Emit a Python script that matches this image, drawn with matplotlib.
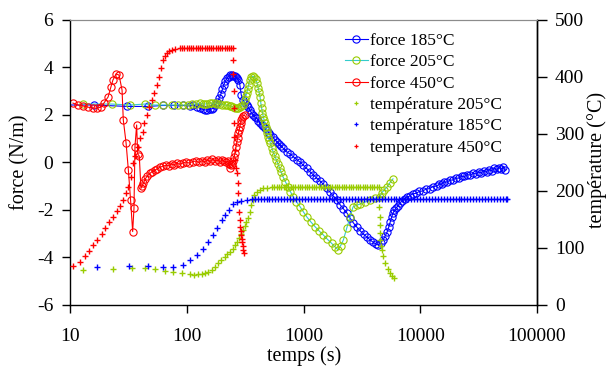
import matplotlib
matplotlib.use("Agg")
import matplotlib.pyplot as plt
from matplotlib.lines import Line2D
from matplotlib.ticker import NullLocator

plt.rcParams["font.family"] = "Liberation Serif"
plt.rcParams["axes.unicode_minus"] = False

# force (N/m) vs temps (s)
force_185 = [
    (2, 2.42), (16, 2.42), (31, 2.36), (46.6, 2.36), (62, 2.40), (77, 2.40), (92, 2.40),
    (107, 2.38), (114, 2.42), (122, 2.35), (130, 2.28), (137, 2.24), (143, 2.21), (150, 2.22),
    (158, 2.24), (164, 2.26), (169, 2.28), (176, 2.42), (183, 2.56), (190, 2.72), (196, 2.88),
    (202, 3.08), (207, 3.26), (214, 3.42), (220, 3.54), (228, 3.62), (236, 3.68), (243, 3.68),
    (250, 3.66), (258, 3.64), (265, 3.61), (271, 3.55), (277, 3.47), (285, 3.26), (293, 2.84),
    (303, 2.63), (314, 2.52), (325, 2.42), (335, 2.32), (346, 2.21), (358, 2.10), (370, 2.00),
    (384, 1.92), (398, 1.86), (410, 1.76), (424, 1.65), (437, 1.58), (450, 1.52), (467, 1.44),
    (485, 1.35), (502, 1.26), (516, 1.16), (545, 1.06), (570, 0.96), (588, 0.88), (620, 0.78),
    (645, 0.68), (670, 0.60), (715, 0.45), (766, 0.36), (818, 0.24), (874, 0.12), (934, 0.02),
    (993, -0.11), (1065, -0.25), (1138, -0.40), (1214, -0.52), (1290, -0.65), (1387, -0.78),
    (1481, -0.92), (1580, -1.08), (1690, -1.25), (1800, -1.42), (1927, -1.60), (2060, -1.78),
    (2195, -1.95), (2350, -2.12), (2510, -2.35), (2680, -2.55), (2860, -2.72), (3059, -2.88),
    (3270, -3.02), (3490, -3.14), (3728, -3.26), (3950, -3.36), (4150, -3.43), (4370, -3.47),
    (4580, -3.38), (4800, -3.26), (5000, -3.10), (5200, -2.93), (5370, -2.72), (5530, -2.50),
    (5680, -2.31), (5840, -2.13), (6000, -2.02), (6250, -1.90), (6450, -1.82), (6700, -1.70),
    (7000, -1.62), (7350, -1.55), (7700, -1.47), (8100, -1.41), (8600, -1.32), (9200, -1.30),
    (9800, -1.22), (10500, -1.20), (11200, -1.12), (12000, -1.10), (12800, -1.02),
    (13800, -0.99), (14500, -0.92), (15300, -0.90), (16100, -0.82), (17000, -0.82),
    (18000, -0.74), (19000, -0.74), (20100, -0.66), (21300, -0.66), (22600, -0.58),
    (23900, -0.59), (25300, -0.51), (26900, -0.53), (28400, -0.45), (30000, -0.48),
    (31600, -0.40), (33300, -0.43), (35100, -0.35), (37000, -0.38), (39000, -0.30),
    (41000, -0.34), (43200, -0.25), (45400, -0.29), (47300, -0.22), (49200, -0.27),
    (51200, -0.20), (53300, -0.32),
]

force_205 = [
    (12.9, 2.46), (22.9, 2.46), (32.6, 2.42), (44, 2.46), (53, 2.42), (62.6, 2.42), (74.6, 2.42),
    (84, 2.42), (93, 2.42), (102, 2.42), (111, 2.46), (120, 2.46), (130, 2.51), (137, 2.47),
    (143, 2.46), (150, 2.48), (158, 2.51), (166, 2.49), (174, 2.51), (183, 2.48), (193, 2.46),
    (202, 2.44), (212, 2.42), (223, 2.40), (234, 2.38), (241, 2.36), (249, 2.34), (258, 2.31),
    (268, 2.29), (276, 2.31), (285, 2.34), (294, 2.38), (303, 2.42), (313, 2.63), (320, 2.78),
    (326, 2.91), (332, 3.08), (338, 3.26), (346, 3.47), (356, 3.58), (366, 3.63), (377, 3.61),
    (390, 3.50), (400, 3.35), (410, 3.12), (417, 2.95), (424, 2.77), (431, 2.50), (438, 2.28),
    (445, 2.10), (452, 1.93), (460, 1.79), (467, 1.65), (474, 1.51), (482, 1.37), (490, 1.23),
    (498, 1.09), (510, 0.95), (521, 0.81), (535, 0.63), (549, 0.45), (567, 0.28), (585, 0.11),
    (605, -0.07), (625, -0.24), (645, -0.42), (667, -0.60), (700, -0.81), (736, -1.02),
    (773, -1.23), (813, -1.44), (870, -1.65), (934, -1.86), (995, -2.07), (1063, -2.28),
    (1150, -2.49), (1254, -2.70), (1360, -2.88), (1477, -3.05), (1600, -3.23), (1737, -3.40),
    (1860, -3.55), (1978, -3.68), (2080, -3.50), (2195, -3.26), (2350, -2.75), (2510, -2.28),
    (2655, -1.87), (2850, -1.80), (3059, -1.75), (3380, -1.66), (3728, -1.58), (4100, -1.51),
    (4520, -1.45), (4670, -1.28), (4930, -1.15), (5200, -1.03), (5500, -0.85), (5840, -0.69),
]

force_450 = [
    (10.6, 2.50), (11.7, 2.42), (12.9, 2.38), (14.3, 2.33), (15.7, 2.29), (17.0, 2.29),
    (18.4, 2.33), (19.5, 2.50), (21.2, 2.76), (22.4, 3.18), (23.3, 3.47), (24.8, 3.73),
    (26.3, 3.68), (27.9, 3.05), (28.6, 1.79), (30.2, 0.83), (31.6, -0.32), (33.0, -1.57),
    (34.4, -2.91), (35.3, -1.93), (36.0, 0.67), (37.2, 1.58), (38.0, 0.36), (39.2, 0.27),
    (40.5, -1.09), (41.5, -0.98), (42.4, -0.88), (43.9, -0.71), (45.8, -0.57), (48.4, -0.46),
    (50.5, -0.38), (53.5, -0.32), (56, -0.26), (59, -0.20), (63, -0.15), (67, -0.11),
    (70, -0.14), (74, -0.06), (78, -0.10), (82, -0.03), (87, -0.07), (93, -0.02), (99, 0.03),
    (105, -0.03), (112, 0.04), (120, 0.06), (127, 0.00), (135, 0.08), (142, 0.03), (150, 0.10),
    (158, 0.05), (166, 0.13), (175, 0.07), (184, 0.11), (193, 0.04), (202, 0.10), (210, 0.05),
    (218, 0.02), (224, 0.06), (229, -0.05), (234, -0.25), (240, -0.12), (245, -0.05),
    (250, 0.05), (255, 0.25), (259, 0.42), (264, 0.65), (268, 0.85), (273, 1.05), (277, 1.23),
    (281, 1.38), (285, 1.51), (289, 1.66), (293, 1.79), (298, 1.88), (303, 1.96), (313, 2.00),
]

# température (°C) vs temps (s)
temp_205 = [
    (12.9, 61), (23.3, 63), (34, 65), (44, 65), (53, 63), (65, 60), (76, 58), (91, 56),
    (106, 54), (115, 53), (125, 54), (134, 54), (143, 56), (153, 58), (164, 61), (174, 67),
    (185, 74), (198, 79), (212, 84), (223, 89), (234, 93), (247, 99), (260, 105), (270, 111),
    (280, 118), (292, 125), (303, 132), (313, 139), (323, 146), (335, 153), (346, 164),
    (356, 175), (366, 184), (380, 193), (398, 199), (424, 202), (450, 205), (490, 206),
    (537, 207), (562, 207), (588, 207), (616, 207), (645, 207), (675, 207), (707, 207),
    (740, 207), (775, 207), (811, 207), (849, 207), (889, 207), (931, 207), (975, 207),
    (1020, 207), (1068, 207), (1118, 207), (1171, 207), (1226, 207), (1283, 207), (1344, 207),
    (1407, 207), (1473, 207), (1542, 207), (1614, 207), (1690, 207), (1770, 207), (1853, 207),
    (1940, 207), (2031, 207), (2126, 207), (2226, 207), (2331, 207), (2440, 207), (2555, 207),
    (2675, 207), (2800, 207), (2932, 207), (3069, 207), (3214, 207), (3365, 207), (3523, 207),
    (3688, 207), (3861, 207), (4043, 207), (4233, 207), (4450, 207), (4457, 190), (4470, 172),
    (4480, 155), (4490, 140), (4500, 127), (4520, 114), (4600, 104), (4670, 96), (4800, 86),
    (5000, 74), (5250, 64), (5500, 56), (5700, 51), (5900, 47),
]

temp_185 = [
    (17, 67), (32, 68), (46.6, 68), (62.6, 67), (76, 67), (93, 70), (106, 79), (122, 88),
    (137, 98), (153, 111), (169, 123), (183, 135), (199, 149), (212, 158), (229, 167),
    (247, 177), (268, 181), (293, 183), (325, 184), (360, 186), (382, 186), (405, 186),
    (429, 186), (455, 186), (482, 186), (511, 186), (542, 186), (574, 186), (609, 186),
    (645, 186), (684, 186), (725, 186), (768, 186), (814, 186), (863, 186), (915, 186),
    (970, 186), (1028, 186), (1090, 186), (1155, 186), (1224, 186), (1298, 186), (1376, 186),
    (1458, 186), (1546, 186), (1638, 186), (1737, 186), (1841, 186), (1951, 186), (2068, 186),
    (2192, 186), (2324, 186), (2463, 186), (2611, 186), (2768, 186), (2934, 186), (3110, 186),
    (3297, 186), (3494, 186), (3704, 186), (3926, 186), (4162, 186), (4412, 186), (4676, 186),
    (4957, 186), (5254, 186), (5570, 186), (5904, 186), (6258, 186), (6634, 186), (7032, 186),
    (7454, 186), (7901, 186), (8375, 186), (8877, 186), (9410, 186), (9975, 186),
    (10570, 186), (11210, 186), (11880, 186), (12590, 186), (13350, 186), (14150, 186),
    (15000, 186), (15900, 186), (16850, 186), (17860, 186), (18940, 186), (20070, 186),
    (21280, 186), (22550, 186), (23910, 186), (25340, 186), (26860, 186), (28470, 186),
    (30180, 186), (31990, 186), (33910, 186), (35950, 186), (38100, 186), (40390, 186),
    (42810, 186), (45380, 186), (48100, 186), (50990, 186), (54050, 186), (55400, 186),
]

temp_450 = [
    (10.6, 68), (12.2, 75), (13.4, 86), (14.6, 95), (15.7, 105), (17.0, 114), (18.8, 125),
    (19.9, 135), (21.6, 146), (23.3, 154), (25.3, 165), (26.8, 174), (28.4, 184), (30.2, 196),
    (31.4, 207), (33.3, 225), (34.6, 249), (36.0, 261), (38.2, 277), (39.8, 293), (42.0, 303),
    (43.0, 319), (45.6, 333), (47.5, 347), (50.0, 360), (52.5, 372), (55.5, 386), (57.7, 400),
    (60.0, 416), (62.6, 430), (65, 437), (67.8, 442), (71, 445), (74.6, 447), (80, 449),
    (87, 451), (91, 451), (95, 451), (100, 451), (104, 451), (109, 451), (114, 451), (119, 451),
    (124, 451), (130, 451), (136, 451), (142, 451), (148, 451), (155, 451), (162, 451),
    (169, 451), (177, 451), (185, 451), (193, 451), (202, 451), (211, 451), (221, 451),
    (231, 451), (241, 451), (249, 451), (250, 430), (251, 405), (252, 375), (253, 345),
    (254, 320), (255, 295), (257, 272), (259, 255), (264, 240), (269, 232), (272, 214),
    (274, 196), (280, 163), (285, 149), (288, 137), (291, 130), (294, 123), (297, 115),
    (300, 110), (303, 103), (306, 97), (309, 91),
]

blue = "#0000FF"
green = "#99CC00"
red = "#FF0000"
cyan = "#33CCCC"

fig = plt.figure(figsize=(6.11, 3.70), dpi=100)
ax = fig.add_axes([0.1146, 0.1757, 0.7643, 0.7703])

circ = dict(marker="o", ms=5.2, mfc="none", mew=0.8, lw=0.8)
for data, lc, mc in [(force_185, blue, blue), (force_205, cyan, green), (force_450, red, red)]:
    t, f = zip(*data)
    ax.plot(t, f, color=lc, mec=mc, **circ)

ax.set_xscale("log")
ax.set_xlim(10, 100000)
ax.set_ylim(-6, 6)
ax.xaxis.set_major_locator(plt.FixedLocator([10, 100, 1000, 10000, 100000]))
ax.xaxis.set_minor_locator(NullLocator())
ax.set_xticklabels(["10", "100", "1000", "10000", "100000"])
ax.set_yticks(range(-6, 7, 2))
ax.tick_params(axis="both", direction="out", length=5.5, width=1, labelsize=14)
ax.tick_params(axis="x", pad=11)
ax.tick_params(axis="y", pad=6.5)

ax2 = ax.twinx()
plus = dict(ls="none", marker="+", ms=4.2, mew=1.0)
for data, c in [(temp_205, green), (temp_185, blue), (temp_450, red)]:
    t, T = zip(*data)
    ax2.plot(t, T, color=c, **plus)
ax2.set_ylim(0, 500)
ax2.set_yticks(range(0, 501, 100))
ax2.tick_params(axis="y", direction="out", length=7, width=1, labelsize=14, pad=6)

for a in (ax, ax2):
    a.spines["top"].set_color("#8c8c8c")
    a.spines["top"].set_linewidth(0.8)
    for s in ("left", "bottom", "right"):
        a.spines[s].set_linewidth(1.0)
ax2.spines["left"].set_visible(False)
ax2.spines["bottom"].set_visible(False)

ax.set_xlabel("temps (s)", fontsize=14.5)
ax.xaxis.label.set_va("center")
ax.xaxis.set_label_coords(0.502, -0.179)
ax.set_ylabel("force (N/m)", fontsize=14.5)
ax.yaxis.label.set_va("center")
ax.yaxis.set_label_coords(-0.107, 0.5)
ax2.set_ylabel("température (°C)", fontsize=14.5)
ax2.yaxis.label.set_va("center")
ax2.yaxis.set_label_coords(1.128, 0.51)

handles = [
    Line2D([], [], color=blue, mec=blue, **circ),
    Line2D([], [], color=cyan, mec=green, **circ),
    Line2D([], [], color=red, mec=red, **circ),
    Line2D([], [], color=green, ls="none", marker="+", ms=3.5, mew=0.9),
    Line2D([], [], color=blue, ls="none", marker="+", ms=3.5, mew=0.9),
    Line2D([], [], color=red, ls="none", marker="+", ms=3.5, mew=0.9),
]
labels = ["force 185°C", "force 205°C", "force 450°C",
          "température 205°C", "température 185°C", "temperature 450°C"]
ax2.legend(handles, labels, loc="upper left", bbox_to_anchor=(0.589, 0.955),
           frameon=False, fontsize=12.5, handlelength=1.3, handletextpad=0.15,
           labelspacing=0.30, borderpad=0, borderaxespad=0)

fig.savefig("out.png", dpi=100)
